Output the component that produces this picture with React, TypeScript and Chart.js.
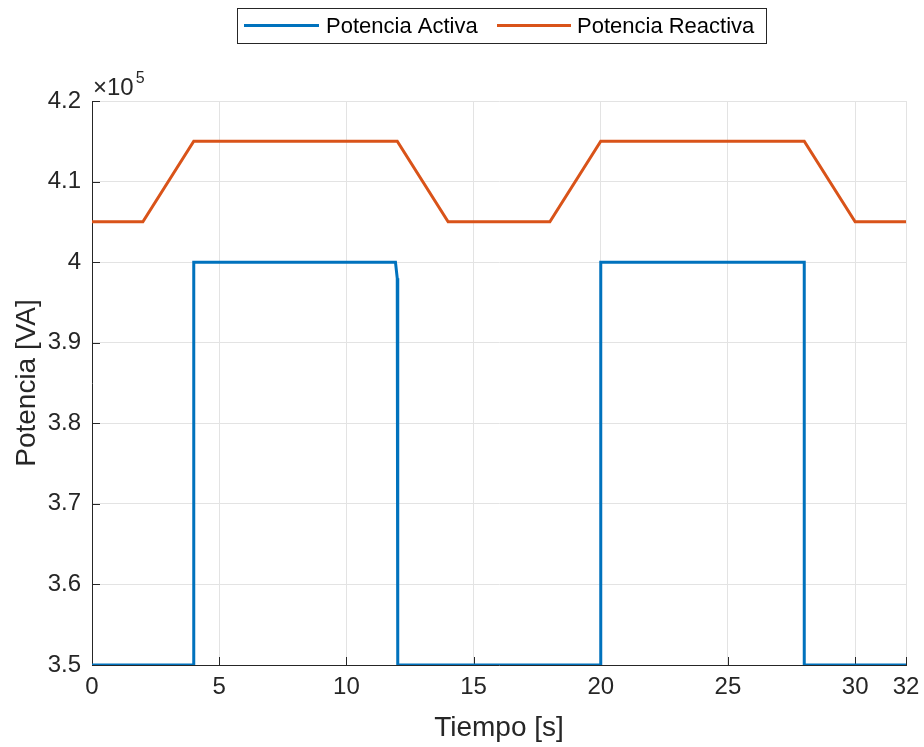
import React, { useEffect, useRef } from "react";
import { Chart, registerables } from "chart.js";

Chart.register(...registerables);

const activeTimes = [0, 4, 4, 11.93, 12.0, 12.02, 20, 20, 28, 28, 32];
const activePower = [350000, 350000, 400000, 400000, 398000, 350000, 350000, 400000, 400000, 350000, 350000];

const reactiveTimes = [0, 2, 4, 12, 14, 18, 20, 28, 30, 32];
const reactivePower = [405000, 405000, 415000, 415000, 405000, 405000, 415000, 415000, 405000, 405000];

const xTicks = [0, 5, 10, 15, 20, 25, 30, 32];
const seriesNames = ["Potencia Activa", "Potencia Reactiva"];
const seriesColors = ["#0072BD", "#D95319"];

const FONT = "'Liberation Sans', Arial, Helvetica, sans-serif";
const AXIS = "#262626";

const overlayPlugin = {
  id: "overlay",
  beforeDatasetsDraw(chart: any) {
    const ctx = chart.ctx;
    const { left, bottom } = chart.chartArea;
    const xs = chart.scales.x;
    const ys = chart.scales.y;
    ctx.save();
    ctx.strokeStyle = AXIS;
    ctx.lineWidth = 1;
    ctx.beginPath();
    ys.ticks.forEach((t: any) => {
      const p = Math.round(ys.getPixelForValue(t.value)) + 0.5;
      ctx.moveTo(left, p);
      ctx.lineTo(left + 8, p);
    });
    xs.ticks.forEach((t: any) => {
      const p = Math.round(xs.getPixelForValue(t.value)) + 0.5;
      ctx.moveTo(p, bottom);
      ctx.lineTo(p, bottom - 8);
    });
    ctx.stroke();
    ctx.restore();
  },
  afterDraw(chart: any) {
    const ctx = chart.ctx;
    const { left, top } = chart.chartArea;
    ctx.save();
    // exponent label
    ctx.fillStyle = AXIS;
    ctx.textBaseline = "alphabetic";
    ctx.textAlign = "left";
    ctx.font = `24px ${FONT}`;
    ctx.fillText("\u00d710", left + 1, top - 6);
    const w = ctx.measureText("\u00d710").width;
    ctx.font = `16px ${FONT}`;
    ctx.fillText("5", left + 3 + w, top - 18);

    // legend box
    const bx = 237.5, by = 8.5, bw = 529, bh = 35;
    ctx.fillStyle = "#ffffff";
    ctx.fillRect(bx, by, bw, bh);
    ctx.strokeStyle = AXIS;
    ctx.lineWidth = 1;
    ctx.strokeRect(bx, by, bw, bh);
    const ly = 25.5;
    const entries = [
      { x0: 244, x1: 319, tx: 326 },
      { x0: 497, x1: 571, tx: 577 },
    ];
    entries.forEach((e, i) => {
      ctx.strokeStyle = seriesColors[i];
      ctx.lineWidth = 3;
      ctx.beginPath();
      ctx.moveTo(e.x0, ly);
      ctx.lineTo(e.x1, ly);
      ctx.stroke();
      ctx.fillStyle = "#000000";
      ctx.font = `22px ${FONT}`;
      ctx.textBaseline = "middle";
      ctx.fillText(seriesNames[i], e.tx, ly + 1);
    });
    ctx.restore();
  },
};

export default function App() {
  const ref = useRef<HTMLCanvasElement | null>(null);
  useEffect(() => {
    if (!ref.current) return;
    const chart = new Chart(ref.current, {
      type: "line",
      data: {
        datasets: [
          {
            label: seriesNames[0],
            data: activeTimes.map((t, i) => ({ x: t, y: activePower[i] })),
            borderColor: seriesColors[0],
            backgroundColor: seriesColors[0],
            borderWidth: 3,
            pointRadius: 0,
            tension: 0,
          },
          {
            label: seriesNames[1],
            data: reactiveTimes.map((t, i) => ({ x: t, y: reactivePower[i] })),
            borderColor: seriesColors[1],
            backgroundColor: seriesColors[1],
            borderWidth: 3,
            pointRadius: 0,
            tension: 0,
          },
        ],
      },
      options: {
        responsive: false,
        animation: false,
        devicePixelRatio: 1,
        layout: { padding: { top: 101, right: 18, left: 0, bottom: 0 } },
        plugins: {
          legend: { display: false },
          tooltip: { enabled: false },
        },
        scales: {
          x: {
            type: "linear",
            min: 0,
            max: 32,
            afterBuildTicks: (s: any) => {
              s.ticks = xTicks.map((v) => ({ value: v }));
            },
            afterFit: (s: any) => {
              s.height = 82;
              s.paddingRight = 0;
              s.paddingLeft = 0;
            },
            ticks: {
              color: AXIS,
              font: { family: FONT, size: 24 },
              padding: 8,
              maxRotation: 0,
              autoSkip: false,
            },
            grid: { color: "#e3e3e3", drawTicks: false, lineWidth: 1 },
            border: { display: true, color: AXIS, width: 1 },
            title: {
              display: true,
              text: "Tiempo [s]",
              color: AXIS,
              font: { family: FONT, size: 28 },
              padding: { top: 0, bottom: 2 },
            },
          },
          y: {
            type: "linear",
            min: 350000,
            max: 420000,
            afterFit: (s: any) => {
              s.width = 92;
            },
            ticks: {
              stepSize: 10000,
              color: AXIS,
              font: { family: FONT, size: 24 },
              padding: 11,
              callback: (v: any) => String(Math.round(Number(v) / 1e4) / 10),
            },
            grid: { color: "#e3e3e3", drawTicks: false, lineWidth: 1 },
            border: { display: true, color: AXIS, width: 1 },
            title: {
              display: true,
              text: "Potencia [VA]",
              color: AXIS,
              font: { family: FONT, size: 28 },
              padding: { top: 10, bottom: 0 },
            },
          },
        },
      },
      plugins: [overlayPlugin],
    });
    return () => chart.destroy();
  }, []);
  return (
    <div style={{ position: "absolute", left: 0, top: 0, width: 924, height: 747, background: "#fff" }}>
      <canvas ref={ref} width={924} height={747} />
    </div>
  );
}
